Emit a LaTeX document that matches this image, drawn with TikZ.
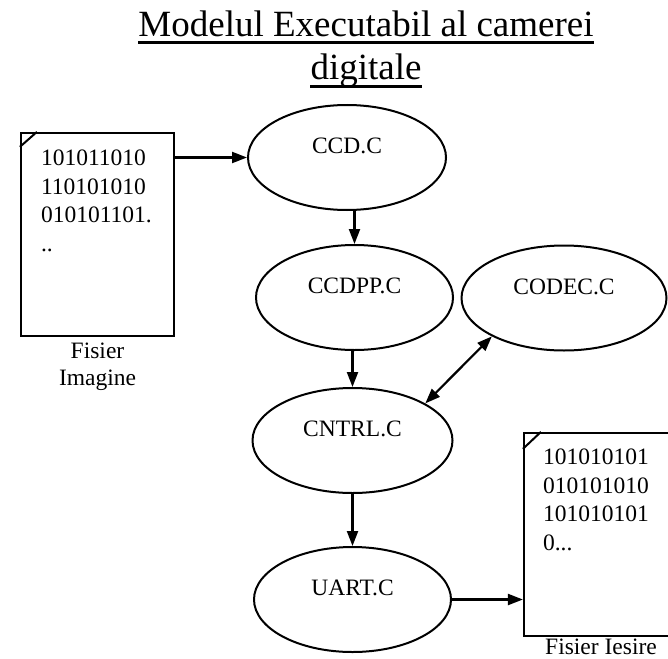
\documentclass[tikz,border=0pt]{standalone}
\usepackage{fontspec}
\setmainfont{Liberation Serif}
\usetikzlibrary{shapes.geometric,arrows.meta}
% lift a module name a little above the centre of its ellipse
\newcommand\modname[1]{\raisebox{4pt}[0pt][0pt]{#1}}
\begin{document}
\begin{tikzpicture}[x=1pt,y=-1pt,
  module/.style={draw, ellipse, line width=2pt, inner sep=0pt,
    font=\fontsize{23.5}{28.5}\selectfont},
  datafile/.style={draw, rectangle, line width=2.2pt, inner sep=0pt,
    minimum width=153pt, minimum height=203pt},
  bits/.style={font=\fontsize{23.5}{28.5}\selectfont, align=left,
    inner sep=0pt, anchor=north west},
  caption/.style={font=\fontsize{23.5}{27}\selectfont, align=center,
    inner sep=0pt, anchor=north},
  heading/.style={font=\fontsize{37}{43}\selectfont, inner sep=0pt, anchor=base},
  link/.style={line width=2.2pt, -{Triangle[length=15pt,width=11pt]}},
  twoway/.style={line width=2.2pt,
    {Triangle[length=15pt,width=11pt]}-{Triangle[length=15pt,width=11pt]}},
  fold/.style={line width=2pt}
]
\useasboundingbox (0,0) rectangle (668,658);

% heading
\node[heading] (t1) at (366,37) {Modelul Executabil al camerei};
\node[heading] (t2) at (366,80) {digitale};
\draw[line width=2.2pt] ([yshift=-5.5pt]t1.base west) -- ([yshift=-5.5pt]t1.base east);
\draw[line width=2.2pt] ([yshift=-6.5pt]t2.base west) -- ([yshift=-6.5pt]t2.base east);

% input image file
\node[datafile] (img) at (97.5,234.5) {};
\draw[fold] ([yshift=-15pt]img.north west) -- ([xshift=17pt]img.north west);
\node[bits] (imgbits) at ([shift={(21,18)}]img.north west)
  {101011010\\110101010\\010101101.\\..};
\node[caption] (imgcap) at ([shift={(0,6)}]img.south) {Fisier\\Imagine};

% output file (runs off the right edge)
\node[datafile, minimum width=150pt] (out) at (599,534.5) {};
\draw[fold] ([yshift=-17pt]out.north west) -- ([xshift=18pt]out.north west);
\node[bits] (outbits) at ([shift={(20,17)}]out.north west)
  {101010101\\010101010\\101010101\\0...};
\node[caption] (outcap) at ([shift={(2,2)}]out.south) {Fisier Iesire};

% program modules
\node[module, minimum width=198pt, minimum height=105pt] (ccd)   at (347,157.5) {\modname{CCD.C}};
\node[module, minimum width=197pt, minimum height=105pt] (ccdpp) at (354.5,297.5) {\modname{CCDPP.C}};
\node[module, minimum width=205pt, minimum height=105pt] (codec) at (564,298) {\modname{CODEC.C}};
\node[module, minimum width=200pt, minimum height=105pt] (cntrl) at (352.5,440.5) {\modname{CNTRL.C}};
\node[module, minimum width=197pt, minimum height=105pt] (uart)  at (352.5,599.5) {\modname{UART.C}};

% data flow
\draw[link] (img.east |- ccd.west) -- (ccd.west);
\draw[link] (ccdpp.north |- ccd.south) -- (ccdpp.north);
\draw[link] (cntrl.north |- ccdpp.south) -- (cntrl.north);
\draw[link] (cntrl.south) -- (uart.north);
\draw[link] (uart.east) -- (uart.east -| out.west);
\draw[twoway] (cntrl.27) -- (codec.208);
\end{tikzpicture}
\end{document}
